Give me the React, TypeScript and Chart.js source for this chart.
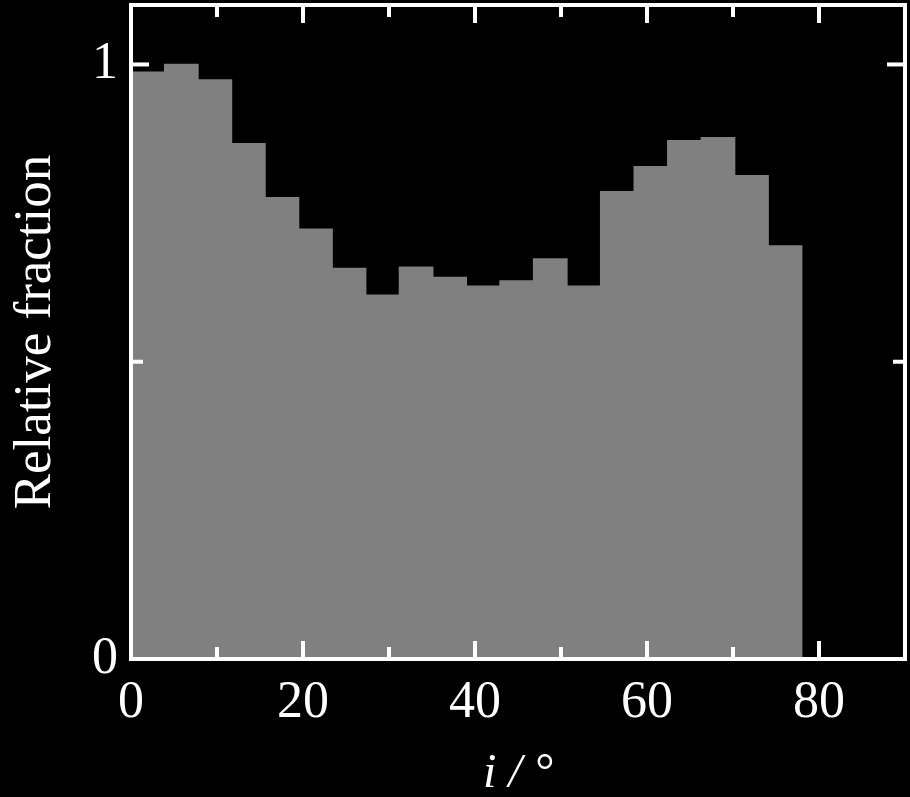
import { useEffect, useRef } from 'react';
import { Chart, registerables } from 'chart.js';

Chart.register(...registerables);

// Histogram of inclination i (degrees): bin centres and relative fractions
const binCenters = [1.95, 5.85, 9.75, 13.65, 17.55, 21.45, 25.35, 29.25, 33.15, 37.05, 40.95, 44.85, 48.75, 52.65, 56.55, 60.45, 64.35, 68.25, 72.15, 76.05];
const relativeFraction = [0.987, 1.0, 0.974, 0.867, 0.776, 0.723, 0.657, 0.612, 0.659, 0.642, 0.627, 0.636, 0.673, 0.627, 0.786, 0.828, 0.872, 0.877, 0.813, 0.695];

const xMajorTicks = [20, 40, 60, 80];
const xMinorTicks = [10, 30, 50, 70];
const yMajorTicks = [1];
const yMinorTicks = [0.5];
const yTickLabels: Record<string, string> = { '0': '0', '1': '1' };

const xTitle = 'i / °';
const yTitle = 'Relative fraction';

const SERIF = "'Liberation Serif', 'Times New Roman', serif";

const framePlugin = {
  id: 'frameAndTicks',
  afterDatasetsDraw(chart: any) {
    const { ctx, chartArea } = chart;
    const { left, right, top, bottom } = chartArea;
    const xs = chart.scales.x;
    const ys = chart.scales.y;
    ctx.save();
    ctx.strokeStyle = '#ffffff';
    ctx.lineWidth = 4;
    ctx.lineCap = 'butt';
    const seg = (x1: number, y1: number, x2: number, y2: number) => {
      ctx.beginPath();
      ctx.moveTo(x1, y1);
      ctx.lineTo(x2, y2);
      ctx.stroke();
    };
    const major = 18;
    const minor = 12;
    xMajorTicks.forEach((v) => {
      const px = xs.getPixelForValue(v);
      seg(px, bottom, px, bottom - major);
      seg(px, top, px, top + major);
    });
    xMinorTicks.forEach((v) => {
      const px = xs.getPixelForValue(v);
      seg(px, bottom, px, bottom - minor);
      seg(px, top, px, top + minor);
    });
    yMajorTicks.forEach((v) => {
      const py = ys.getPixelForValue(v);
      seg(left, py, left + major, py);
      seg(right, py, right - major, py);
    });
    yMinorTicks.forEach((v) => {
      const py = ys.getPixelForValue(v);
      seg(left, py, left + minor, py);
      seg(right, py, right - minor, py);
    });
    ctx.lineJoin = 'miter';
    ctx.strokeRect(left, top, right - left, bottom - top);
    ctx.restore();
  },
};

export default function App() {
  const canvasRef = useRef<HTMLCanvasElement | null>(null);

  useEffect(() => {
    document.body.style.margin = '0';
    document.body.style.background = '#000000';
    const canvas = canvasRef.current;
    if (!canvas) return;
    const chart = new Chart(canvas, {
      type: 'bar',
      data: {
        datasets: [
          {
            data: binCenters.map((x, i) => ({ x, y: relativeFraction[i] })),
            backgroundColor: '#808080',
            borderWidth: 0,
            barPercentage: 1,
            categoryPercentage: 1,
            inflateAmount: 0.6,
          },
        ],
      },
      options: {
        animation: false,
        responsive: false,
        devicePixelRatio: 1,
        layout: { padding: { left: 0, right: 5, top: 5, bottom: 0 } },
        plugins: {
          legend: { display: false },
          tooltip: { enabled: false },
        },
        scales: {
          x: {
            type: 'linear',
            min: 0,
            max: 90,
            offset: false,
            grid: { display: false, drawTicks: false, offset: false },
            border: { display: false },
            ticks: {
              stepSize: 20,
              includeBounds: false,
              color: '#ffffff',
              padding: 13,
              maxRotation: 0,
              font: { family: SERIF, size: 52, lineHeight: 1.2 },
            },
            title: {
              display: true,
              text: xTitle,
              color: '#ffffff',
              font: { family: SERIF, size: 48, style: 'italic', lineHeight: 0.9 },
              padding: { top: 0, bottom: 1.5 },
            },
            afterFit(scale: any) {
              scale.height = 138;
              scale.paddingLeft = 0;
              scale.paddingRight = 0;
            },
          },
          y: {
            type: 'linear',
            min: 0,
            max: 1.1,
            grid: { display: false, drawTicks: false },
            border: { display: false },
            ticks: {
              stepSize: 0.5,
              includeBounds: false,
              color: '#ffffff',
              padding: 13,
              font: { family: SERIF, size: 52, lineHeight: 1.2 },
              callback: (v: any) => yTickLabels[String(v)] ?? '',
            },
            title: {
              display: true,
              text: yTitle,
              color: '#ffffff',
              font: { family: SERIF, size: 53, lineHeight: 1.2 },
              padding: { top: 4, bottom: 0 },
            },
            afterFit(scale: any) {
              scale.width = 131;
              scale.paddingTop = 0;
              scale.paddingBottom = 0;
            },
          },
        },
      },
      plugins: [framePlugin],
    });
    return () => chart.destroy();
  }, []);

  return (
    <div style={{ width: 910, height: 797, background: '#000000' }}>
      <canvas ref={canvasRef} width={910} height={797} style={{ display: 'block', background: '#000000' }} />
    </div>
  );
}
